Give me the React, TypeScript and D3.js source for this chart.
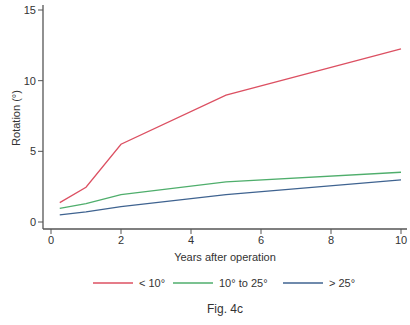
import { useEffect, useRef } from "react";
import * as d3 from "d3";

const years = [0.25, 1, 2, 5, 10];
const lowRot = [1.37, 2.46, 5.5, 8.98, 12.25];
const midRot = [0.97, 1.3, 1.94, 2.84, 3.52];
const highRot = [0.5, 0.71, 1.09, 1.94, 2.98];
const seriesNames = ["< 10°", "10° to 25°", "> 25°"];
const seriesColors = ["#dc5062", "#4fae6c", "#3f6390"];
const xTicks = [0, 2, 4, 6, 8, 10];
const yTicks = [0, 5, 10, 15];

export default function App() {
  const svgRef = useRef<SVGSVGElement>(null);

  useEffect(() => {
    if (!svgRef.current) return;
    const svg = d3.select(svgRef.current);
    svg.selectAll("*").remove();

    const font = "Liberation Sans, Arial, sans-serif";
    const axisColor = "#555";
    const textColor = "#333";

    const x = d3.scaleLinear().domain([0, 10]).range([51, 401]);
    const y = d3.scaleLinear().domain([0, 15]).range([222, 10]);
    const left = 43;
    const bottom = 229;

    // frame lines
    svg.append("line").attr("x1", left).attr("x2", left).attr("y1", 5).attr("y2", bottom)
      .attr("stroke", axisColor).attr("stroke-width", 1.3);
    svg.append("line").attr("x1", left).attr("x2", 407).attr("y1", bottom).attr("y2", bottom)
      .attr("stroke", axisColor).attr("stroke-width", 1.3);

    // y ticks
    yTicks.forEach((t) => {
      svg.append("line").attr("x1", left - 5).attr("x2", left).attr("y1", y(t)).attr("y2", y(t))
        .attr("stroke", axisColor);
      svg.append("text").attr("x", left - 7).attr("y", y(t)).attr("dy", "0.35em")
        .attr("text-anchor", "end").attr("font-family", font).attr("font-size", 11)
        .attr("fill", textColor).text(t);
    });

    // x ticks
    xTicks.forEach((t) => {
      svg.append("line").attr("x1", x(t)).attr("x2", x(t)).attr("y1", bottom).attr("y2", bottom + 5)
        .attr("stroke", axisColor);
      svg.append("text").attr("x", x(t)).attr("y", bottom + 15)
        .attr("text-anchor", "middle").attr("font-family", font).attr("font-size", 11)
        .attr("fill", textColor).text(t);
    });

    svg.append("text").attr("x", 225).attr("y", 261).attr("text-anchor", "middle")
      .attr("font-family", font).attr("font-size", 11).attr("fill", textColor)
      .text("Years after operation");
    svg.append("text").attr("transform", "translate(20,118) rotate(-90)").attr("text-anchor", "middle")
      .attr("font-family", font).attr("font-size", 11).attr("fill", textColor)
      .text("Rotation (°)");

    const line = d3.line<number>().x((_d, i) => x(years[i])).y((d) => y(d));
    [lowRot, midRot, highRot].forEach((s, i) => {
      svg.append("path").attr("d", line(s)).attr("fill", "none")
        .attr("stroke", seriesColors[i]).attr("stroke-width", 1.3);
    });

    // legend
    const legendX = [93, 173, 283];
    seriesNames.forEach((name, i) => {
      svg.append("line").attr("x1", legendX[i]).attr("x2", legendX[i] + 40).attr("y1", 283).attr("y2", 283)
        .attr("stroke", seriesColors[i]).attr("stroke-width", 1.3);
      svg.append("text").attr("x", legendX[i] + 46).attr("y", 283).attr("dy", "0.35em")
        .attr("font-family", font).attr("font-size", 11).attr("fill", textColor).text(name);
    });

    svg.append("text").attr("x", 225).attr("y", 313).attr("text-anchor", "middle")
      .attr("font-family", font).attr("font-size", 12).attr("fill", textColor).text("Fig. 4c");
  }, []);

  return (
    <svg
      ref={svgRef}
      width={410}
      height={325}
      style={{ position: "absolute", left: 0, top: 0, background: "#fff" }}
    />
  );
}
